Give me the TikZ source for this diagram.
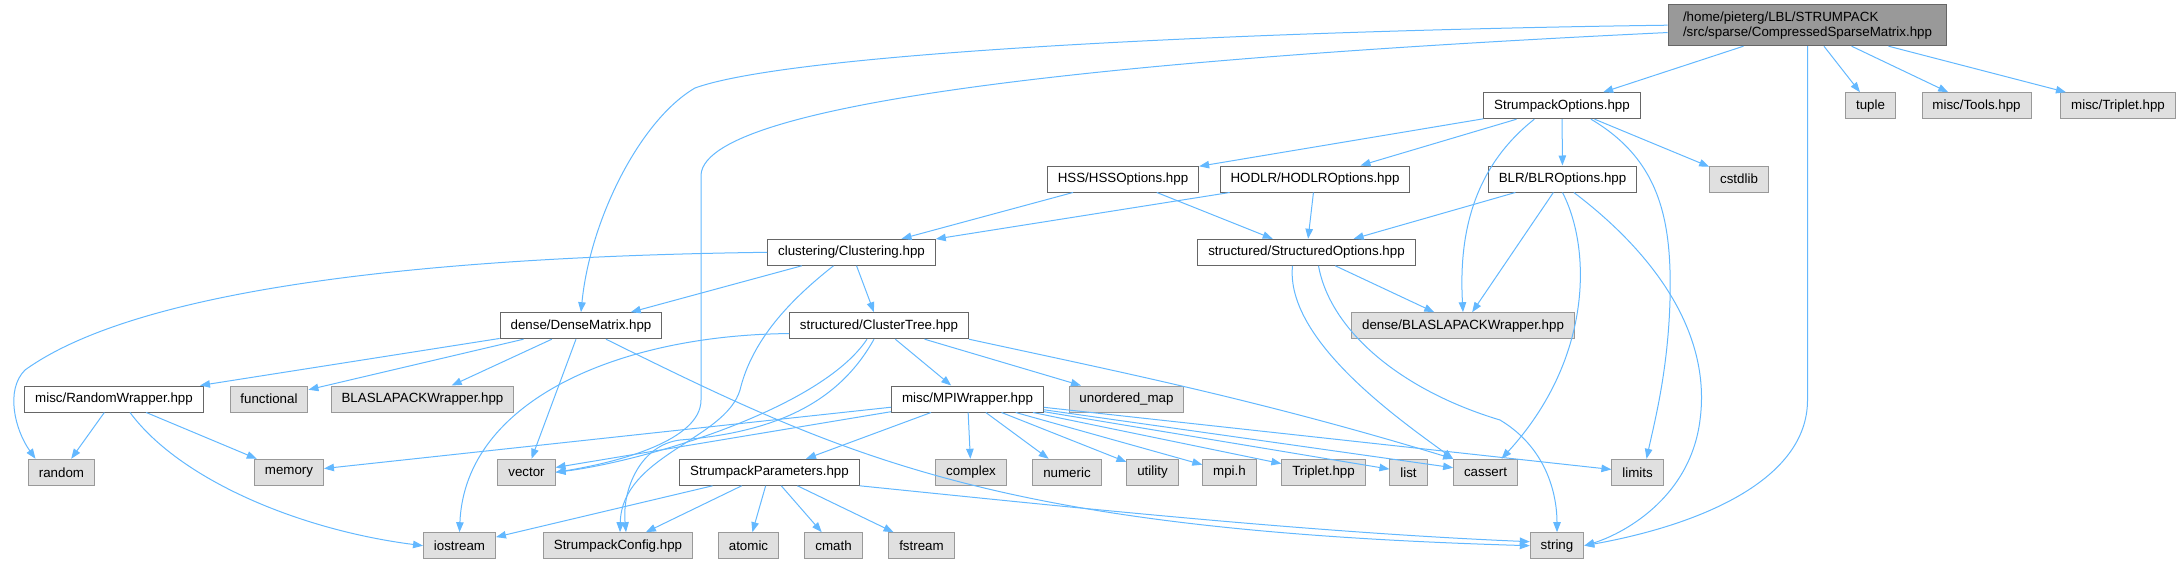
\documentclass[tikz,border=0pt]{standalone}
\usepackage{fontspec}
\setmainfont{Liberation Sans}
\usetikzlibrary{calc,arrows.meta}
\definecolor{edgeblue}{HTML}{63B8FF}
\definecolor{sysfill}{HTML}{E0E0E0}
\definecolor{rootfill}{HTML}{999999}
\definecolor{userline}{HTML}{666666}
\definecolor{sysline}{HTML}{999999}

\begin{document}
\begin{tikzpicture}[x=0.75pt,y=-0.75pt,font=\fontsize{10}{11.25}\selectfont,
  file/.style={draw=userline,fill=white,line width=0.75pt,inner xsep=7.8pt,inner ysep=2pt,minimum height=19.5pt},
  sys/.style={file,draw=sysline,fill=sysfill},
  root/.style={file,fill=rootfill,align=left,minimum width=209pt,minimum height=30.75pt},
  dep/.style={draw=edgeblue,line width=0.75pt,-{Triangle[length=7.5pt,width=5.6pt]}}]
  \useasboundingbox (0,0) rectangle (2183,564);
  \node[root] (main) at (1807.5,25.2) {/home/pieterg/LBL/STRUMPACK\\/src/sparse/CompressedSparseMatrix.hpp};
  \node[file] (sopt) at (1562,105.7) {StrumpackOptions.hpp};
  \node[sys] (tuple) at (1870.5,105.7) {tuple};
  \node[sys] (tools) at (1976.5,105.7) {misc/Tools.hpp};
  \node[sys] (triplet) at (2118,105.7) {misc/Triplet.hpp};
  \node[file] (hss) at (1123,179) {HSS/HSSOptions.hpp};
  \node[file] (hodlr) at (1315,179) {HODLR/HODLROptions.hpp};
  \node[file] (blr) at (1562.5,179) {BLR/BLROptions.hpp};
  \node[sys] (cstdlib) at (1739,179) {cstdlib};
  \node[file] (clust) at (851.5,252.3) {clustering/Clustering.hpp};
  \node[file] (stropt) at (1306.5,252.3) {structured/StructuredOptions.hpp};
  \node[file] (dense) at (581,325.7) {dense/DenseMatrix.hpp};
  \node[file] (ctree) at (879,325.7) {structured/ClusterTree.hpp};
  \node[sys] (dblas) at (1463,325.7) {dense/BLASLAPACKWrapper.hpp};
  \node[file] (rw) at (114,399) {misc/RandomWrapper.hpp};
  \node[sys] (functional) at (269,399) {functional};
  \node[sys] (blas) at (422.5,399) {BLASLAPACKWrapper.hpp};
  \node[file] (mpiw) at (967.5,399) {misc/MPIWrapper.hpp};
  \node[sys] (umap) at (1126.5,399) {unordered\_map};
  \node[sys] (random) at (61.5,472.3) {random};
  \node[sys] (memory) at (289,472.3) {memory};
  \node[sys] (vector) at (526.5,472.3) {vector};
  \node[file] (sparam) at (769.5,472.3) {StrumpackParameters.hpp};
  \node[sys] (complex) at (971,472.3) {complex};
  \node[sys] (numeric) at (1067,472.3) {numeric};
  \node[sys] (utility) at (1152.5,472.3) {utility};
  \node[sys] (mpih) at (1229.5,472.3) {mpi.h};
  \node[sys] (tripleth) at (1323.5,472.3) {Triplet.hpp};
  \node[sys] (list) at (1408.5,472.3) {list};
  \node[sys] (cassert) at (1485.5,472.3) {cassert};
  \node[sys] (limits) at (1637.5,472.3) {limits};
  \node[sys] (iostream) at (459.5,545.7) {iostream};
  \node[sys] (sconfig) at (618,545.7) {StrumpackConfig.hpp};
  \node[sys] (atomic) at (748.5,545.7) {atomic};
  \node[sys] (cmath) at (833.5,545.7) {cmath};
  \node[sys] (fstream) at (921.5,545.7) {fstream};
  \node[sys] (string) at (1557,545.7) {string};

  \draw[dep] (main.west) .. controls (1300,30) and (800,50) .. (695,88) .. controls (640,120) and (590,220) .. (dense.north);
  \draw[dep] (main.183) .. controls (1200,55) and (705,95) .. (701,175) -- (701,400) .. controls (701,440) and (620,462) .. (vector.east);
  \draw[dep] (main.south) -- (1807.5,400) .. controls (1807.5,480) and (1700,525) .. (string.east);
  \draw[dep] (main) -- (sopt); \draw[dep] (main) -- (tuple); \draw[dep] (main) -- (tools); \draw[dep] (main) -- (triplet);

  \draw[dep] (sopt) -- (hss); \draw[dep] (sopt) -- (hodlr); \draw[dep] (sopt) -- (blr); \draw[dep] (sopt) -- (cstdlib);
  \draw[dep] (sopt.206) .. controls (1470,170) and (1459,240) .. (dblas.north);
  \draw[dep] (sopt.335) .. controls (1660,160) and (1672,220) .. (1670,300) .. controls (1668,370) and (1655,420) .. ($(limits.north)+(9,0)$);

  \draw[dep] (hss) -- (clust); \draw[dep] (hss) -- (stropt);
  \draw[dep] (hodlr) -- (clust); \draw[dep] (hodlr) -- (stropt);
  \draw[dep] (blr) -- (stropt); \draw[dep] (blr) -- (dblas);
  \draw[dep] (blr.south) .. controls (1592,250) and (1592,360) .. ($(cassert.north)+(16,0)$);
  \draw[dep] (blr.310) .. controls (1650,250) and (1712,330) .. (1700,420) .. controls (1690,500) and (1620,535) .. (string.east);

  \draw[dep] (stropt) -- (dblas);
  \draw[dep] ($(stropt.south)+(-14,0)$) .. controls (1285,340) and (1400,420) .. (cassert.north west);
  \draw[dep] ($(stropt.south)+(12,0)$) .. controls (1330,330) and (1400,390) .. (1500,420) .. controls (1550,450) and (1557,500) .. (string.north);

  \draw[dep] (clust.west) .. controls (480,256) and (150,280) .. (25,370) .. controls (5,390) and (15,430) .. ($(random.north)+(-26,0)$);
  \draw[dep] (clust) -- (dense); \draw[dep] (clust) -- (ctree);
  \draw[dep] ($(clust.south)+(-18,0)$) .. controls (790,300) and (752,340) .. (740,390) .. controls (725,440) and (622,455) .. ($(sconfig.north)+(2,0)$);

  \draw[dep] (ctree.185) .. controls (620,335) and (465,400) .. (iostream.north);
  \draw[dep] ($(ctree.south)+(-12,0)$) .. controls (820,410) and (640,462) .. (vector.east);
  \draw[dep] ($(ctree.south)+(-5,0)$) .. controls (840,400) and (780,432) .. (680,440) .. controls (640,445) and (622,490) .. ($(sconfig.north)+(8,0)$);
  \draw[dep] (ctree) -- (mpiw); \draw[dep] (ctree) -- (umap);
  \draw[dep] (ctree.south east) .. controls (1120,372) and (1260,400) .. (cassert.north west);

  \draw[dep] (dense) -- (rw); \draw[dep] (dense) -- (functional); \draw[dep] (dense) -- (blas); \draw[dep] (dense) -- (vector);
  \draw[dep] ($(dense.south)+(25,0)$) .. controls (850,460) and (1000,530) .. (string.west);

  \draw[dep] (rw) -- (random); \draw[dep] (rw) -- (memory);
  \draw[dep] ($(rw.south)+(16,0)$) .. controls (180,480) and (300,530) .. (iostream.west);

  \draw[dep] (mpiw) -- (memory); \draw[dep] (mpiw) -- (vector); \draw[dep] (mpiw) -- (sparam);
  \draw[dep] (mpiw) -- (complex); \draw[dep] (mpiw) -- (numeric); \draw[dep] (mpiw) -- (utility);
  \draw[dep] (mpiw) -- (mpih); \draw[dep] (mpiw) -- (tripleth); \draw[dep] (mpiw) -- (list);
  \draw[dep] (mpiw) -- (cassert); \draw[dep] (mpiw) -- (limits);

  \draw[dep] (sparam) -- (iostream); \draw[dep] (sparam) -- (sconfig); \draw[dep] (sparam) -- (atomic);
  \draw[dep] (sparam) -- (cmath); \draw[dep] (sparam) -- (fstream);
  \draw[dep] (sparam.south east) .. controls (1050,505) and (1300,532) .. ($(string.west)+(0,-4)$);
\end{tikzpicture}
\end{document}
